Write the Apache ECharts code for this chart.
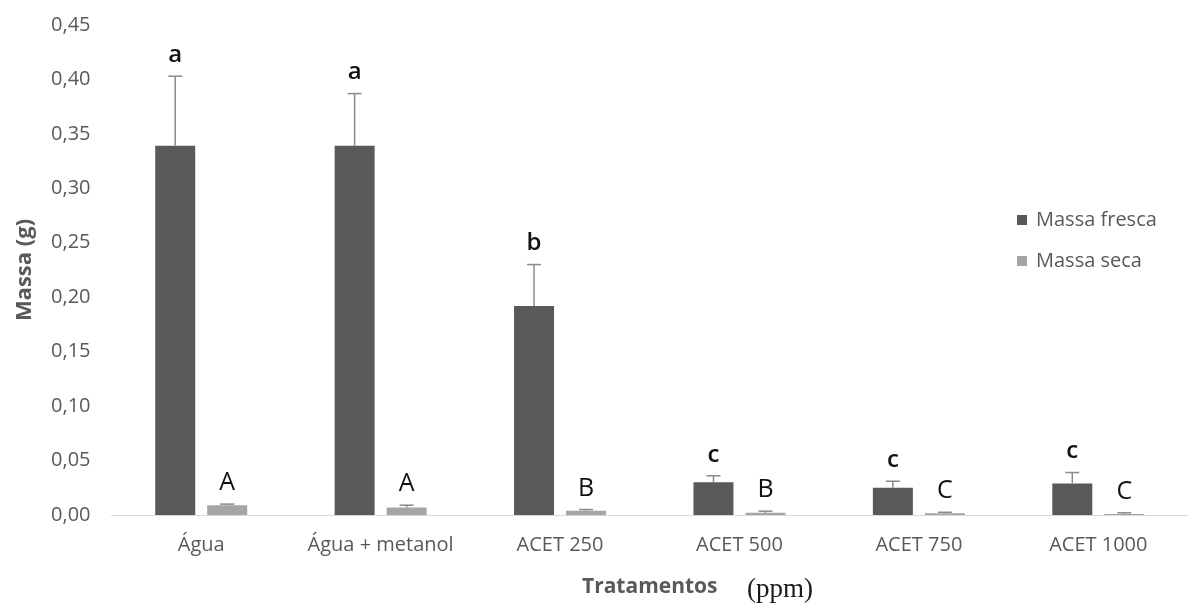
<!DOCTYPE html>
<html>
<head>
<meta charset="utf-8">
<script src="https://cdn.jsdelivr.net/npm/echarts@6/dist/echarts.min.js"></script>
<style>
  html, body { margin: 0; padding: 0; background: #fff; }
  #chart { width: 1188px; height: 603px; }
</style>
</head>
<body>
<div id="chart"></div>
<script>
// Treatments and measured masses (g)
const categories = ['Água', 'Água + metanol', 'ACET 250', 'ACET 500', 'ACET 750', 'ACET 1000'];
const massaFresca = [0.339, 0.339, 0.192, 0.030, 0.025, 0.029];
const massaFrescaErr = [0.064, 0.048, 0.038, 0.006, 0.006, 0.010];
const massaSeca = [0.009, 0.007, 0.004, 0.002, 0.0015, 0.001];
const massaSecaErr = [0.001, 0.002, 0.001, 0.0015, 0.001, 0.001];
// Significance letters (Tukey groups)
const letrasFresca = ['a', 'a', 'b', 'c', 'c', 'c'];
const letrasSeca = ['A', 'A', 'B', 'B', 'C', 'C'];
const yTicks = { min: 0, max: 0.45, interval: 0.05 };

const BAR_W = 40;
const BAR_GAP_PX = 12;
const FONT = '"Open Sans", "Noto Sans", sans-serif';

function errorSeries(values, errs, letters, side, bold) {
  return {
    type: 'custom',
    z: 5,
    silent: true,
    data: values.map((v, i) => [i, v, errs[i]]),
    encode: { x: 0, y: 1 },
    renderItem: function (params, api) {
      const i = api.value(0);
      const v = api.value(1);
      const e = api.value(2);
      const off = side * (BAR_W + BAR_GAP_PX) / 2;
      const pTop = api.coord([i, v + e]);
      const pVal = api.coord([i, v]);
      const x = pTop[0] + off;
      const capHalf = 7;
      const style = { stroke: '#8a8a8a', lineWidth: 1.5 };
      return {
        type: 'group',
        children: [
          { type: 'line', shape: { x1: x, y1: pVal[1], x2: x, y2: pTop[1] }, style: style },
          { type: 'line', shape: { x1: x - capHalf, y1: pTop[1], x2: x + capHalf, y2: pTop[1] }, style: style },
          {
            type: 'text',
            style: {
              text: letters[params.dataIndex],
              x: x,
              y: pTop[1] - 21,
              align: 'center',
              verticalAlign: 'middle',
              fill: '#111',
              font: (bold ? '600 ' : '') + (bold ? '24px ' : '25px ') + FONT
            }
          }
        ]
      };
    }
  };
}

const chart = echarts.init(document.getElementById('chart'), null, { renderer: 'canvas' });

chart.setOption({
  backgroundColor: '#ffffff',
  animation: false,
  grid: { left: 111.5, right: -9, top: 25, bottom: 85, containLabel: false },
  legend: {
    orient: 'vertical',
    left: 1012,
    top: 205,
    itemWidth: 10,
    itemHeight: 10,
    itemGap: 21,
    icon: 'rect',
    textStyle: { color: '#595959', fontSize: 20, fontFamily: FONT, padding: [0, 0, 0, 4] },
    data: ['Massa fresca', 'Massa seca']
  },
  xAxis: {
    type: 'category',
    data: categories,
    name: 'Tratamentos',
    nameLocation: 'middle',
    nameGap: 62,
    nameTextStyle: { color: '#595959', fontSize: 21, fontWeight: 'bold', fontFamily: FONT },
    axisLine: { lineStyle: { color: '#d9d9d9', width: 1 } },
    axisTick: { show: false },
    axisLabel: { color: '#595959', fontSize: 20, fontFamily: FONT, margin: 20, interval: 0 },
    splitLine: { show: false }
  },
  yAxis: {
    type: 'value',
    min: yTicks.min,
    max: yTicks.max,
    interval: yTicks.interval,
    name: 'Massa (g)',
    nameLocation: 'middle',
    nameRotate: 90,
    nameGap: 76,
    nameTextStyle: { color: '#595959', fontSize: 22, fontWeight: 'bold', fontFamily: FONT },
    axisLine: { show: false },
    axisTick: { show: false },
    splitLine: { show: false },
    axisLabel: {
      color: '#595959',
      fontSize: 20,
      fontFamily: FONT,
      margin: 21,
      formatter: v => v.toFixed(2).replace('.', ',')
    }
  },
  graphic: [
    {
      type: 'text',
      left: 747,
      top: 576,
      style: { text: '(ppm)', fill: '#1a1a1a', font: '27px "Liberation Serif", "DejaVu Serif", serif' }
    }
  ],
  series: [
    {
      name: 'Massa fresca',
      type: 'bar',
      data: massaFresca,
      barWidth: BAR_W,
      barGap: (BAR_GAP_PX / BAR_W * 100) + '%',
      itemStyle: { color: '#595959' }
    },
    {
      name: 'Massa seca',
      type: 'bar',
      data: massaSeca,
      barWidth: BAR_W,
      itemStyle: { color: '#a5a5a5' }
    },
    errorSeries(massaFresca, massaFrescaErr, letrasFresca, -1, true),
    errorSeries(massaSeca, massaSecaErr, letrasSeca, 1, false)
  ]
});
</script>
</body>
</html>
